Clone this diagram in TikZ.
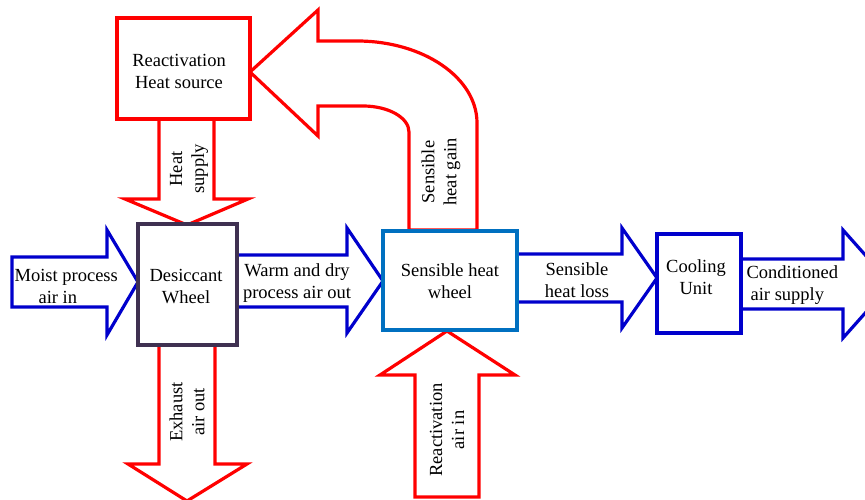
\documentclass[tikz,border=0pt]{standalone}
\usepackage{fontspec}
\setmainfont{Liberation Serif}
\definecolor{ared}{RGB}{255,0,0}
\definecolor{ablue}{RGB}{0,0,204}
\definecolor{dpurple}{RGB}{63,49,81}
\definecolor{mblue}{RGB}{0,112,192}
\newcommand\dfont{\fontsize{18.5}{22}\selectfont}
\begin{document}
\begin{tikzpicture}[x=1pt,y=-1pt,line width=3.2pt,
  box/.style={draw,fill=white,rectangle,inner sep=0pt},
  lbl/.style={align=center,inner sep=0pt,font=\dfont},
  redarrow/.style={draw=ared,fill=white},
  bluearrow/.style={draw=ablue,fill=white}]
\clip (0,0) rectangle (865,500);
\fill[white] (0,0) rectangle (865,500);
% boxes as coordinates first (positions)
\coordinate (rhsC) at (183.5,68.5);
% block arrows
\draw[bluearrow] (12,257) -- (107,257) -- (107,230) -- (138,282) -- (107,335) -- (107,307) -- (12,307) -- cycle;
\draw[bluearrow] (237,255) -- (347,255) -- (347,228) -- (383,281) -- (347,333) -- (347,307) -- (237,307) -- cycle;
\draw[bluearrow] (517,254) -- (622,254) -- (622,228) -- (657,278) -- (622,328) -- (622,302) -- (517,302) -- cycle;
\draw[bluearrow] (741,259) -- (843,259) -- (843,230) -- (891,284) -- (843,338) -- (843,309) -- (741,309) -- cycle;
\draw[redarrow] (159,119) -- (159,199) -- (125,199) -- (187,225) -- (248,199) -- (214,199) -- (214,119) -- cycle;
\draw[redarrow] (159,345) -- (159,464) -- (128,464) -- (187,501) -- (247,464) -- (215,464) -- (215,345) -- cycle;
\draw[redarrow] (415,497) -- (415,375) -- (380,375) -- (447,331) -- (515,375) -- (479,375) -- (479,497) -- cycle;
\draw[redarrow] (409,230) -- (409,132) .. controls (409,117.6) and (388.4,106) .. (363,106) -- (318,106) -- (318,136) -- (250,72) -- (318,10) -- (318,41) -- (357,41) .. controls (423.3,41) and (477,77.7) .. (477,123) -- (477,230) -- cycle;
% boxes
\node[box,draw=ared,minimum width=133pt,minimum height=101pt] (rhs) at (183.5,68.5) {};
\node[box,draw=dpurple,minimum width=99pt,minimum height=121pt] (dw) at (187.5,284.5) {};
\node[box,draw=mblue,minimum width=134pt,minimum height=99pt] (shw) at (450,280.5) {};
\node[box,draw=ablue,minimum width=84pt,minimum height=99pt] (cu) at (699,283.5) {};
% labels
\node[lbl] (trhs) at (179,71.7) {Reactivation\\Heat source};
\node[lbl] (tdw) at (186,286.7) {Desiccant\\Wheel};
\node[lbl] (tshw) at (450,281.2) {Sensible heat\\wheel};
\node[lbl] (tcu) at (696,276.7) {Cooling\\Unit};
\node[lbl,align=left,anchor=west] (tmoist) at (13,286.8) {Moist process\\\hspace*{24pt}air in};
\node[lbl] (twarm) at (297,283.2) {Warm and dry\\process air out};
\node[lbl] (tloss) at (577,279.7) {Sensible\\heat loss};
\node[lbl,align=left,anchor=west] (tcond) at (745,284.7) {Conditioned\\\hspace*{4pt}air supply};
\node[lbl,rotate=90] (theat) at (189,169) {Heat\\supply};
\node[lbl,rotate=90] (tgain) at (441,172) {Sensible\\heat gain};
\node[lbl,rotate=90] (texh) at (187,412) {Exhaust\\air out};
\node[lbl,rotate=90] (treact) at (447,430) {Reactivation\\air in};
\end{tikzpicture}
\end{document}
